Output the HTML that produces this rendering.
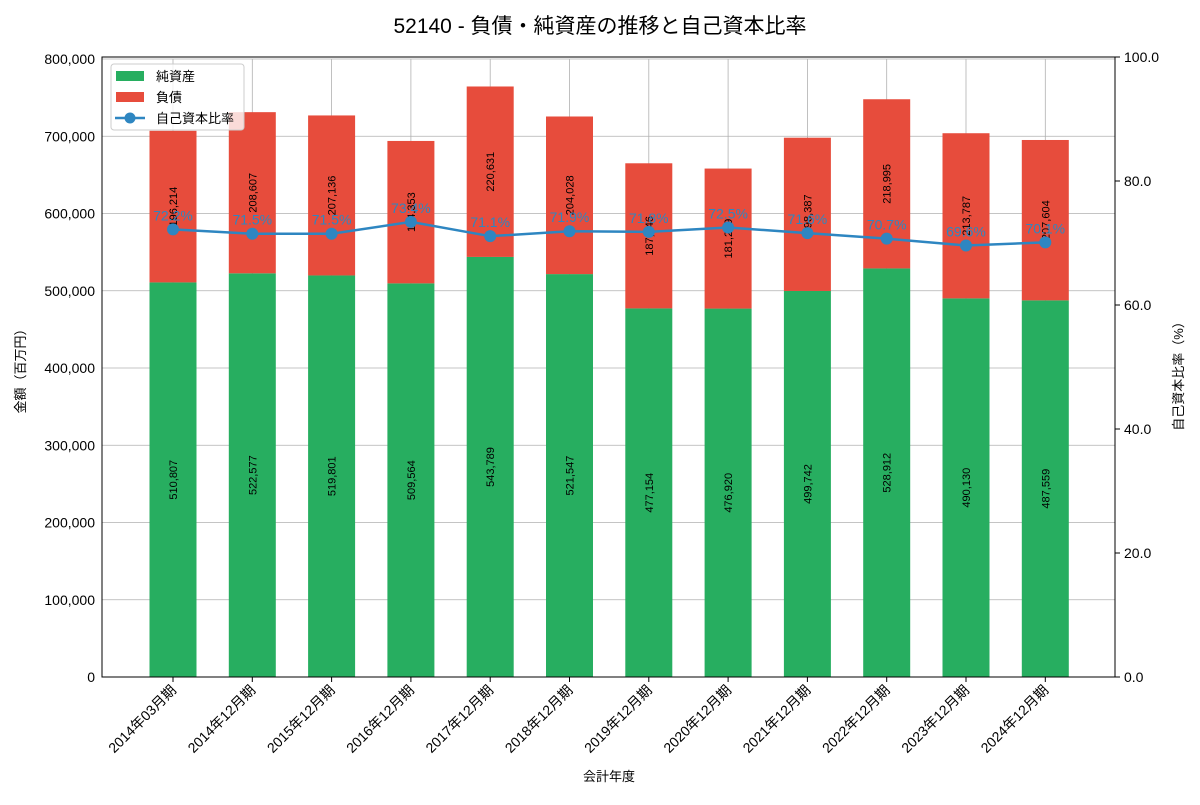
<!DOCTYPE html>
<html><head><meta charset="utf-8"><style>
body{margin:0;background:#fff;font-family:"Liberation Sans","Noto Sans CJK JP",sans-serif}
svg text{font-family:"Liberation Sans","Noto Sans CJK JP",sans-serif}
</style></head><body>
<svg id="c" width="1200" height="800" xmlns="http://www.w3.org/2000/svg">
<text x="600" y="33" text-anchor="middle" font-size="21">52140 - 負債・純資産の推移と自己資本比率</text>
<g id="grid"></g><g id="bars"></g><g id="line"></g><g id="axes"></g>
</svg>
<script>
const categories=["2014年03月期","2014年12月期","2015年12月期","2016年12月期","2017年12月期","2018年12月期","2019年12月期","2020年12月期","2021年12月期","2022年12月期","2023年12月期","2024年12月期"];
const netAssets=[510807,522577,519801,509564,543789,521547,477154,476920,499742,528912,490130,487559];
const liabilities=[196214,208607,207136,184353,220631,204028,187846,181259,198387,218995,213787,207604];
const ratios=[72.2,71.5,71.5,73.4,71.1,71.9,71.8,72.5,71.6,70.7,69.6,70.1];
const leftTicks=[0,100000,200000,300000,400000,500000,600000,700000,800000];
const rightTicks=[0,20,40,60,80,100];
const NS="http://www.w3.org/2000/svg";
const L=102,R=1115,T=59,B=677;
const yL=v=>B-(v/800000)*(B-T);
const yR=v=>B-(v/100)*(B-57);
const xC=i=>173+i*79.3;
const bw=47;
function mk(p,tag,at,txt){const e=document.createElementNS(NS,tag);for(const k in at)e.setAttribute(k,at[k]);if(txt!=null)e.textContent=txt;p.appendChild(e);return e;}
const fmt=v=>v.toLocaleString('en-US');
const g=document.getElementById('grid'),bs=document.getElementById('bars'),ln=document.getElementById('line'),ax=document.getElementById('axes');
leftTicks.forEach(v=>{const e=mk(g,'line',{x1:L,x2:R,y1:yL(v),y2:yL(v),stroke:'#b0b0b0','stroke-width':0.8});

const t=mk(ax,'text',{x:L-7,y:yL(v)+5,'text-anchor':'end','font-size':14},fmt(v));
});
categories.forEach((c,i)=>{const e=mk(g,'line',{x1:xC(i),x2:xC(i),y1:T,y2:B,stroke:'#b0b0b0','stroke-width':0.8});

const x=xC(i);
const r1=mk(bs,'rect',{x:x-bw/2,y:yL(netAssets[i]),width:bw,height:B-yL(netAssets[i]),fill:'#27ae60'});

const top=netAssets[i]+liabilities[i];
const r2=mk(bs,'rect',{x:x-bw/2,y:yL(top),width:bw,height:yL(netAssets[i])-yL(top),fill:'#e74c3c'});

const ym=(yL(netAssets[i])+B)/2;
const t1=mk(bs,'text',{x:x+4,y:ym,'text-anchor':'middle','font-size':11,transform:`rotate(-90 ${x+4} ${ym})`},fmt(netAssets[i]));

const ym2=(yL(netAssets[i])+yL(top))/2;
const t2=mk(bs,'text',{x:x+4,y:ym2,'text-anchor':'middle','font-size':11,transform:`rotate(-90 ${x+4} ${ym2})`},fmt(liabilities[i]));

const tk=mk(ax,'line',{x1:x,x2:x,y1:B,y2:B+5,stroke:'#000'});

const tl=mk(ax,'text',{x:x+4,y:B+14,'text-anchor':'end','font-size':14,transform:`rotate(-45 ${x+4} ${B+14})`},c);
});
const pl=mk(ln,'polyline',{points:ratios.map((r,i)=>xC(i)+','+yR(r)).join(' '),fill:'none',stroke:'#2e86c1','stroke-width':2.5});

ratios.forEach((r,i)=>{const c=mk(ln,'circle',{cx:xC(i),cy:yR(r),r:6,fill:'#2e86c1'});

const t=mk(ln,'text',{x:xC(i),y:yR(r)-9,'text-anchor':'middle','font-size':14,fill:'#2e86c1'},r.toFixed(1)+'%');
});
rightTicks.forEach(v=>{const k=mk(ax,'line',{x1:R,x2:R+5,y1:yR(v),y2:yR(v),stroke:'#000'});

const t=mk(ax,'text',{x:R+9,y:yR(v)+5,'font-size':14},v.toFixed(1));
});
const fr=mk(ax,'rect',{x:L,y:T-2,width:R-L,height:B-T+2,fill:'none',stroke:'#000','stroke-width':1});

</script>
<svg style="position:absolute;left:0;top:0" width="1200" height="800" xmlns="http://www.w3.org/2000/svg">
<text x="25" y="368" transform="rotate(-90 25 368)" text-anchor="middle" font-size="13">金額（百万円）</text>
<text x="1183" y="373" transform="rotate(-90 1183 373)" text-anchor="middle" font-size="13">自己資本比率（%）</text>
<text x="609" y="781" text-anchor="middle" font-size="13">会計年度</text>
<g>
<rect x="111" y="64" width="133" height="66" rx="3" fill="#fff" fill-opacity="0.8" stroke="#ccc"/>
<rect x="116" y="71" width="28" height="10" fill="#27ae60"/>
<text x="156" y="81" font-size="13">純資産</text>
<rect x="116" y="92" width="28" height="10" fill="#e74c3c"/>
<text x="156" y="102" font-size="13">負債</text>
<line x1="115" x2="145" y1="118" y2="118" stroke="#2e86c1" stroke-width="2.5"/>
<circle cx="130" cy="118" r="5.5" fill="#2e86c1"/>
<text x="156" y="123" font-size="13">自己資本比率</text>
</g>
</svg>
</body></html>
